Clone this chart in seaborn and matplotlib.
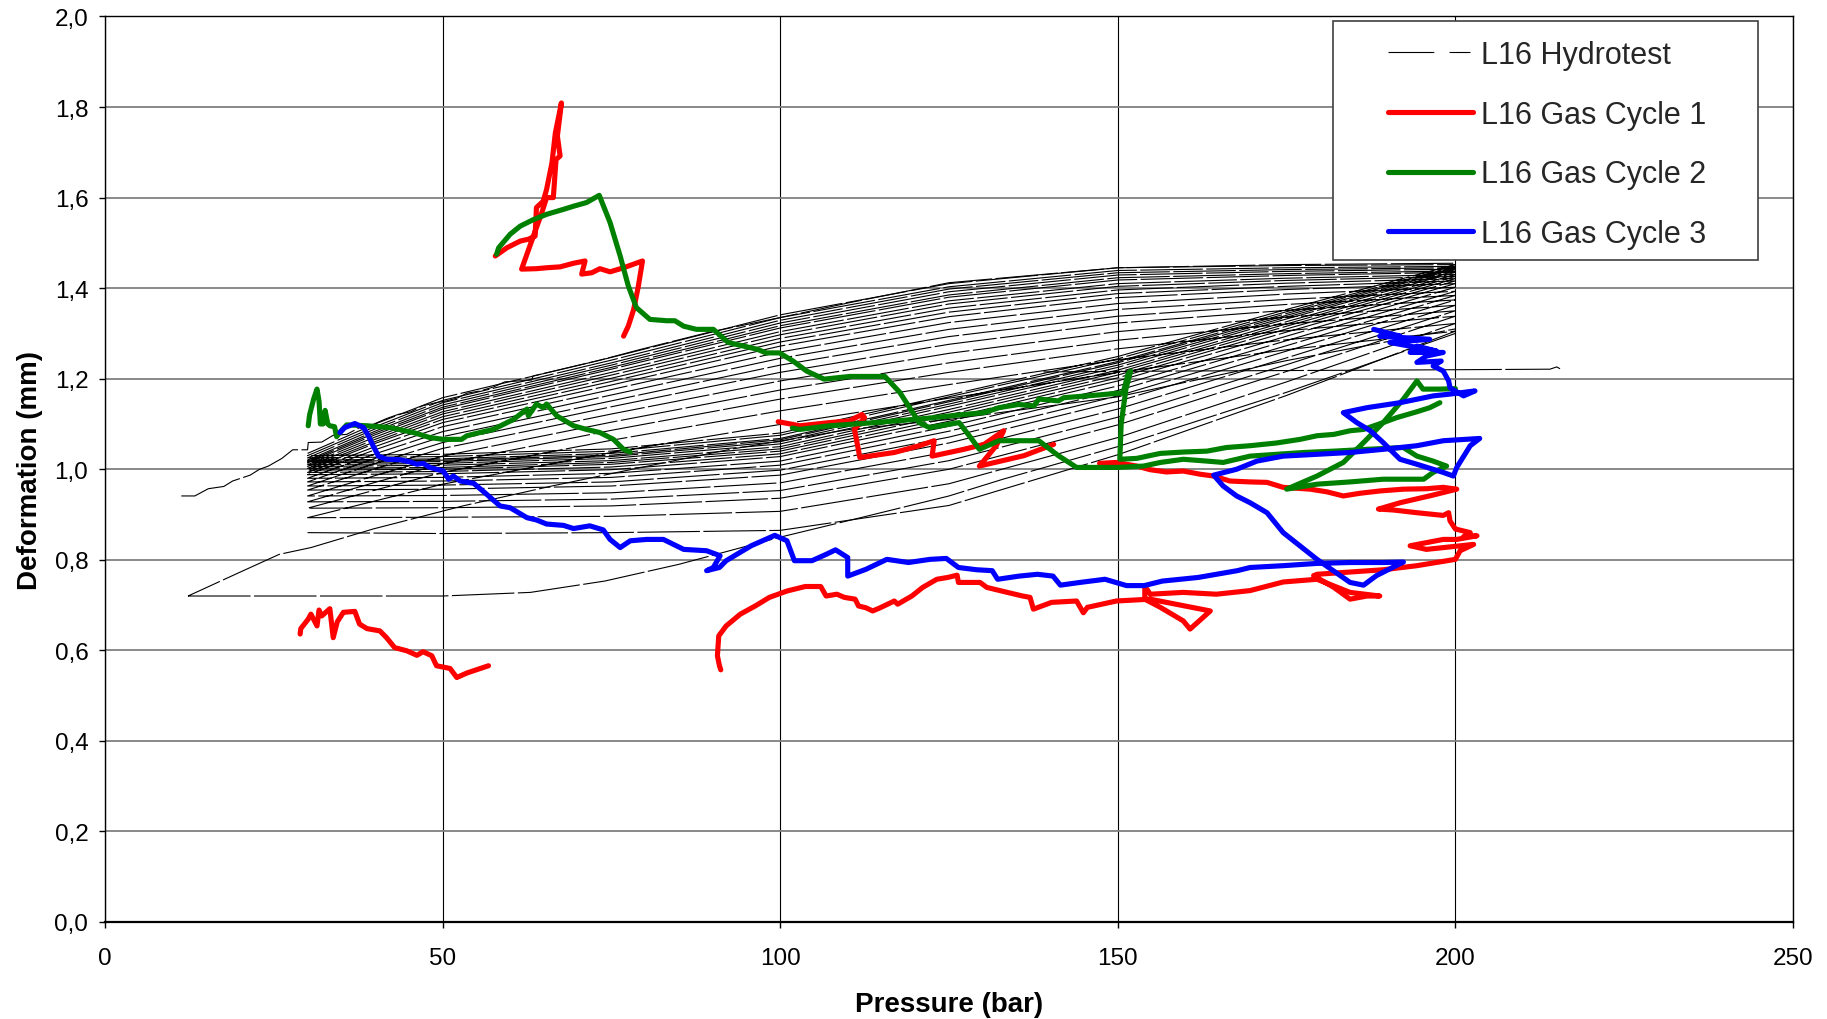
import matplotlib
matplotlib.use("Agg")
import matplotlib.pyplot as plt
import seaborn as sns
import pandas as pd
from matplotlib.lines import Line2D
from matplotlib.patches import Rectangle

# ---------------- axis / legend text ----------------
x_ticks = [0, 50, 100, 150, 200, 250]
y_ticks = [0.0, 0.2, 0.4, 0.6, 0.8, 1.0, 1.2, 1.4, 1.6, 1.8, 2.0]
x_label = "Pressure (bar)"
y_label = "Deformation (mm)"
series_names = ["L16 Hydrotest", "L16 Gas Cycle 1", "L16 Gas Cycle 2", "L16 Gas Cycle 3"]
series_colors = {"L16 Gas Cycle 1": "#FF0000", "L16 Gas Cycle 2": "#008000", "L16 Gas Cycle 3": "#0000FF"}

# ---------------- hydrotest (thin black) ----------------
hydro_stair = [(11.3, 0.941), (13.3, 0.941), (15.3, 0.957), (17.6, 0.962), (18.9, 0.974), (21.5, 0.987),
               (22.9, 1.000), (24.2, 1.007), (26.2, 1.024), (27.8, 1.043), (30.0, 1.043), (30.1, 1.059),
               (32.1, 1.060), (33.8, 1.075), (35.8, 1.077), (37.7, 1.092), (39.7, 1.099), (41.7, 1.112),
               (43.4, 1.121), (45.3, 1.127), (47.0, 1.140), (49.0, 1.147), (50.6, 1.151), (52.3, 1.158),
               (53.6, 1.168), (55.6, 1.173), (57.6, 1.182), (59.2, 1.193), (63.2, 1.197), (63.4, 1.206),
               (72.8, 1.239), (79.4, 1.265), (89.3, 1.302), (100.0, 1.335), (110.3, 1.368), (125.0, 1.412),
               (150.0, 1.445), (175.0, 1.452), (200.0, 1.455)]
hydro_first = [(12.3, 0.720), (30.0, 0.720), (50.0, 0.720), (63.0, 0.728), (74.0, 0.753), (85.0, 0.790),
               (100.0, 0.850), (113.0, 0.897), (125.0, 0.941), (133.0, 0.978), (150.0, 1.050), (175.0, 1.170),
               (200.0, 1.300), (200.0, 1.310), (175.0, 1.240), (150.0, 1.160), (125.0, 1.110), (110.3, 1.088),
               (92.6, 1.044), (79.4, 1.004), (66.2, 0.963), (53.0, 0.919), (39.7, 0.868), (30.5, 0.827),
               (25.8, 0.812), (19.9, 0.772), (12.3, 0.720)]
hydro_hold = [(139.0, 1.215), (160.0, 1.217), (190.0, 1.219), (214.0, 1.221), (215.0, 1.226), (215.5, 1.222)]

hydro_load_p = [30, 50, 75, 100, 125, 150, 175, 200]
hydro_load_d = [
    [1.030, 1.033, 1.045, 1.080, 1.164, 1.249, 1.353, 1.452],
    [1.025, 1.028, 1.040, 1.075, 1.160, 1.244, 1.348, 1.448],
    [1.020, 1.023, 1.035, 1.068, 1.152, 1.238, 1.344, 1.445],
    [1.017, 1.020, 1.031, 1.065, 1.149, 1.235, 1.340, 1.442],
    [1.014, 1.017, 1.028, 1.061, 1.144, 1.230, 1.336, 1.438],
    [1.010, 1.013, 1.024, 1.056, 1.139, 1.225, 1.332, 1.435],
    [1.006, 1.009, 1.019, 1.050, 1.132, 1.219, 1.326, 1.430],
    [1.002, 1.004, 1.015, 1.045, 1.126, 1.214, 1.321, 1.426],
    [0.998, 1.000, 1.011, 1.040, 1.120, 1.208, 1.316, 1.421],
    [0.993, 0.995, 1.005, 1.034, 1.113, 1.202, 1.310, 1.416],
    [0.988, 0.990, 0.999, 1.028, 1.106, 1.195, 1.303, 1.410],
    [0.980, 0.982, 0.991, 1.018, 1.095, 1.184, 1.294, 1.402],
    [0.972, 0.974, 0.982, 1.009, 1.084, 1.174, 1.284, 1.393],
    [0.963, 0.965, 0.972, 0.998, 1.071, 1.162, 1.273, 1.384],
    [0.954, 0.956, 0.963, 0.987, 1.058, 1.150, 1.261, 1.374],
    [0.941, 0.942, 0.948, 0.970, 1.039, 1.133, 1.246, 1.362],
    [0.928, 0.929, 0.934, 0.953, 1.019, 1.115, 1.231, 1.350],
    [0.914, 0.915, 0.919, 0.936, 1.000, 1.098, 1.216, 1.338],
    [0.893, 0.894, 0.896, 0.907, 0.968, 1.070, 1.193, 1.322],
    [0.860, 0.858, 0.860, 0.865, 0.920, 1.032, 1.163, 1.305],
]
hydro_unload_p = [200, 175, 150, 125, 100, 75, 50, 40, 30]
hydro_unload_d = [
    [1.452, 1.450, 1.445, 1.410, 1.341, 1.247, 1.158, 1.100, 1.035],
    [1.448, 1.445, 1.439, 1.403, 1.335, 1.241, 1.152, 1.094, 1.030],
    [1.445, 1.441, 1.434, 1.398, 1.329, 1.235, 1.147, 1.089, 1.025],
    [1.442, 1.437, 1.429, 1.392, 1.323, 1.230, 1.142, 1.084, 1.020],
    [1.438, 1.432, 1.423, 1.385, 1.317, 1.225, 1.137, 1.080, 1.017],
    [1.435, 1.428, 1.418, 1.380, 1.312, 1.221, 1.133, 1.076, 1.014],
    [1.430, 1.422, 1.410, 1.372, 1.304, 1.214, 1.127, 1.071, 1.010],
    [1.426, 1.417, 1.404, 1.365, 1.297, 1.208, 1.122, 1.066, 1.006],
    [1.421, 1.411, 1.396, 1.356, 1.289, 1.201, 1.116, 1.061, 1.002],
    [1.416, 1.404, 1.388, 1.347, 1.281, 1.194, 1.110, 1.057, 0.998],
    [1.410, 1.397, 1.379, 1.337, 1.272, 1.186, 1.103, 1.050, 0.993],
    [1.402, 1.387, 1.366, 1.324, 1.259, 1.176, 1.094, 1.043, 0.988],
    [1.393, 1.375, 1.353, 1.309, 1.245, 1.164, 1.083, 1.034, 0.980],
    [1.384, 1.364, 1.338, 1.293, 1.230, 1.151, 1.072, 1.024, 0.972],
    [1.374, 1.351, 1.323, 1.276, 1.214, 1.138, 1.059, 1.013, 0.963],
    [1.362, 1.336, 1.304, 1.256, 1.195, 1.122, 1.046, 1.001, 0.954],
    [1.350, 1.321, 1.285, 1.235, 1.175, 1.104, 1.029, 0.986, 0.941],
    [1.338, 1.306, 1.266, 1.214, 1.155, 1.086, 1.012, 0.971, 0.928],
    [1.322, 1.286, 1.242, 1.187, 1.129, 1.064, 0.993, 0.954, 0.914],
    [1.305, 1.264, 1.214, 1.157, 1.099, 1.037, 0.967, 0.930, 0.893],
]

# ---------------- Gas cycle 1 (red) ----------------
red_seg1 = [(28.9, 0.636), (29.0, 0.648), (30.1, 0.669), (30.5, 0.680), (31.4, 0.654), (31.7, 0.689),
            (32.1, 0.676), (33.3, 0.692), (33.8, 0.628), (34.4, 0.663), (35.3, 0.684), (37.0, 0.686),
            (37.7, 0.658), (38.8, 0.648), (40.7, 0.643), (41.7, 0.628), (42.9, 0.606), (44.7, 0.599),
            (46.2, 0.589), (47.1, 0.597), (48.4, 0.588), (49.1, 0.566), (51.1, 0.560), (52.1, 0.540),
            (53.6, 0.550), (55.0, 0.557), (56.8, 0.566)]
red_seg2 = [(57.8, 1.471), (59.5, 1.489), (61.5, 1.504), (62.7, 1.508), (63.7, 1.515), (63.9, 1.578),
            (64.9, 1.592), (65.4, 1.618), (66.2, 1.677), (66.7, 1.743), (67.6, 1.809), (67.0, 1.736),
            (67.4, 1.692), (66.8, 1.684), (66.4, 1.600), (65.4, 1.600), (64.7, 1.567), (61.7, 1.442),
            (63.9, 1.443), (65.4, 1.445), (67.4, 1.447), (69.4, 1.455), (71.1, 1.460), (70.6, 1.431),
            (72.1, 1.434), (73.3, 1.443), (74.8, 1.436), (76.8, 1.445), (79.6, 1.460), (79.0, 1.405),
            (78.3, 1.353), (77.5, 1.316), (76.8, 1.294)]
red_seg3 = [(99.7, 1.105), (101.5, 1.100), (102.9, 1.096), (107.3, 1.103), (110.3, 1.107), (112.1, 1.121),
            (112.5, 1.114), (111.0, 1.088), (111.8, 1.026), (116.9, 1.037), (120.6, 1.052), (122.8, 1.063),
            (122.5, 1.029), (127.2, 1.044), (130.2, 1.055), (133.1, 1.085), (132.0, 1.052), (129.5, 1.007),
            (136.1, 1.030), (140.5, 1.055)]
red_seg4 = [(147.3, 1.013), (149.8, 1.015), (152.8, 1.007), (154.8, 0.999), (157.2, 0.994), (159.7, 0.996),
            (162.2, 0.989), (164.2, 0.985), (166.6, 0.974), (169.6, 0.972), (172.1, 0.971), (174.5, 0.960),
            (178.5, 0.956), (181.0, 0.950), (183.4, 0.941), (185.9, 0.947), (188.8, 0.952), (192.3, 0.956),
            (195.7, 0.957), (198.2, 0.960), (200.2, 0.956), (196.7, 0.943), (191.8, 0.926), (188.6, 0.912),
            (190.8, 0.910), (194.3, 0.904), (198.2, 0.898), (199.0, 0.904), (199.2, 0.886), (200.0, 0.868),
            (202.2, 0.860), (201.2, 0.851), (203.2, 0.853), (200.2, 0.845), (198.2, 0.845), (193.3, 0.831),
            (195.7, 0.823), (202.7, 0.834), (200.7, 0.820), (200.0, 0.801), (194.3, 0.787), (189.3, 0.778),
            (184.4, 0.773), (179.5, 0.768), (179.0, 0.765), (182.0, 0.739), (184.4, 0.713), (186.9, 0.720),
            (188.8, 0.720), (184.4, 0.728), (179.5, 0.757), (174.5, 0.751), (169.6, 0.732), (164.6, 0.724),
            (159.7, 0.728), (154.8, 0.724), (154.0, 0.742), (154.0, 0.713), (156.3, 0.695), (159.7, 0.665),
            (160.7, 0.647), (163.7, 0.687), (154.8, 0.713), (149.8, 0.709), (145.5, 0.695), (144.9, 0.683),
            (143.9, 0.709), (140.2, 0.706), (137.5, 0.691), (137.0, 0.717), (135.9, 0.720), (132.8, 0.731),
            (130.6, 0.739), (129.6, 0.750), (126.4, 0.750), (126.2, 0.766), (124.8, 0.761), (123.2, 0.757),
            (121.1, 0.739), (119.5, 0.720), (117.4, 0.702), (116.9, 0.709), (114.8, 0.694), (113.7, 0.687),
            (112.7, 0.694), (111.6, 0.698), (111.1, 0.713), (109.5, 0.717), (108.4, 0.724), (106.8, 0.720),
            (106.0, 0.741), (103.7, 0.741), (101.0, 0.731), (98.4, 0.717), (96.3, 0.698), (94.1, 0.680),
            (92.0, 0.654), (90.9, 0.632), (90.7, 0.588), (91.0, 0.566), (91.2, 0.557)]

# ---------------- Gas cycle 2 (green) ----------------
green_seg1 = [(30.1, 1.096), (30.3, 1.120), (30.9, 1.155), (31.4, 1.177), (31.7, 1.150), (31.9, 1.100),
              (32.3, 1.100), (32.6, 1.130), (33.0, 1.100), (33.3, 1.096), (34.0, 1.094), (34.3, 1.072),
              (34.8, 1.082), (35.8, 1.098), (38.8, 1.096), (42.2, 1.092), (45.7, 1.081), (48.1, 1.070),
              (50.1, 1.066), (52.8, 1.066), (53.6, 1.074), (55.5, 1.081), (57.5, 1.088), (60.5, 1.110),
              (62.5, 1.133), (62.7, 1.118), (63.9, 1.144), (64.9, 1.136), (65.4, 1.144), (66.9, 1.118),
              (69.4, 1.096), (71.3, 1.088), (73.3, 1.081), (75.3, 1.066), (76.8, 1.044), (77.8, 1.038)]
green_seg2 = [(58.0, 1.475), (58.3, 1.489), (60.0, 1.519), (61.5, 1.537), (63.4, 1.551), (65.4, 1.563),
              (67.9, 1.574), (69.4, 1.581), (71.3, 1.589), (73.2, 1.605), (74.8, 1.545), (76.3, 1.471),
              (77.5, 1.405), (78.7, 1.357), (80.7, 1.331), (83.2, 1.328), (84.4, 1.328), (85.7, 1.316),
              (87.6, 1.309), (90.1, 1.309), (92.3, 1.280), (96.6, 1.265), (97.9, 1.257), (99.9, 1.257),
              (101.9, 1.239), (103.9, 1.217), (106.5, 1.199), (110.3, 1.205), (115.5, 1.205), (117.7, 1.170),
              (120.6, 1.103), (122.1, 1.092), (126.5, 1.103), (128.0, 1.074), (129.5, 1.044), (132.4, 1.063),
              (138.3, 1.063), (141.2, 1.030), (143.9, 1.004), (149.8, 1.004), (153.8, 1.007), (156.3, 1.015),
              (159.7, 1.022), (163.2, 1.018), (165.6, 1.015), (167.6, 1.022), (169.6, 1.029), (173.5, 1.033),
              (177.5, 1.037), (182.0, 1.040), (186.9, 1.044), (192.3, 1.048), (194.3, 1.029), (196.7, 1.018),
              (198.7, 1.007), (196.7, 0.993), (195.3, 0.978), (189.3, 0.978), (184.4, 0.972), (179.5, 0.967),
              (175.0, 0.956), (179.5, 0.985), (183.4, 1.015), (186.4, 1.059), (189.3, 1.103), (192.3, 1.155),
              (194.3, 1.195), (195.2, 1.177), (197.7, 1.177), (200.0, 1.178)]
green_seg3 = [(101.8, 1.091), (102.9, 1.088), (107.3, 1.096), (114.0, 1.103), (121.4, 1.112), (127.2, 1.121),
              (130.2, 1.125), (132.4, 1.136), (135.3, 1.143), (137.6, 1.140), (138.3, 1.155), (141.2, 1.151),
              (142.0, 1.158), (147.1, 1.164), (150.8, 1.169), (151.5, 1.210), (151.9, 1.217), (151.2, 1.177),
              (150.5, 1.100), (150.3, 1.022), (152.8, 1.024), (156.3, 1.035), (159.7, 1.038), (163.2, 1.040),
              (166.1, 1.048), (169.6, 1.052), (173.5, 1.058), (177.0, 1.066), (179.5, 1.074), (182.0, 1.077),
              (184.4, 1.085), (186.4, 1.088), (189.3, 1.103), (191.3, 1.114), (194.3, 1.127), (196.2, 1.136),
              (197.7, 1.147)]

# ---------------- Gas cycle 3 (blue) ----------------
blue_seg1 = [(34.8, 1.081), (35.5, 1.092), (37.0, 1.101), (38.3, 1.092), (39.0, 1.074), (39.7, 1.052),
             (40.5, 1.029), (41.7, 1.022), (43.7, 1.021), (45.2, 1.016), (46.2, 1.011), (47.1, 1.013),
             (48.1, 1.004), (50.1, 0.996), (50.9, 0.978), (51.6, 0.985), (52.6, 0.974), (54.6, 0.969),
             (56.5, 0.945), (58.5, 0.919), (60.0, 0.915), (62.5, 0.893), (63.9, 0.888), (65.4, 0.879),
             (67.9, 0.876), (69.4, 0.869), (71.8, 0.875), (73.8, 0.866), (74.8, 0.845), (76.3, 0.827),
             (77.8, 0.842), (80.2, 0.845), (82.7, 0.845), (85.7, 0.823), (89.1, 0.820), (91.1, 0.809),
             (90.1, 0.783), (89.1, 0.776), (91.0, 0.783), (92.0, 0.798), (95.7, 0.831), (99.2, 0.854),
             (101.0, 0.842), (102.1, 0.798), (104.7, 0.798), (106.8, 0.812), (108.2, 0.822), (110.0, 0.805),
             (110.0, 0.764), (112.7, 0.779), (115.8, 0.801), (119.0, 0.794), (122.2, 0.801), (124.6, 0.803),
             (126.4, 0.783), (129.1, 0.778), (131.4, 0.776), (132.2, 0.757), (135.4, 0.764), (138.1, 0.768),
             (140.4, 0.764), (141.5, 0.744), (144.4, 0.750), (148.1, 0.757), (151.3, 0.743), (153.9, 0.743),
             (156.6, 0.753), (161.9, 0.761), (167.7, 0.776), (169.6, 0.783), (174.5, 0.787), (179.5, 0.792),
             (184.4, 0.794), (189.3, 0.794), (192.3, 0.795), (188.3, 0.765), (186.4, 0.744), (184.4, 0.750),
             (179.5, 0.801), (174.5, 0.860), (172.1, 0.904), (169.6, 0.926), (167.6, 0.941), (165.6, 0.963),
             (164.2, 0.987), (167.6, 1.000), (170.6, 1.018), (174.5, 1.029), (179.5, 1.033), (184.4, 1.037),
             (189.3, 1.044), (194.3, 1.052), (198.2, 1.063), (203.6, 1.068), (202.2, 1.052), (200.2, 1.004),
             (199.7, 0.985), (198.2, 0.993), (194.3, 1.011), (191.8, 1.022), (190.3, 1.044), (189.3, 1.059),
             (187.4, 1.085), (185.4, 1.103), (183.4, 1.125), (186.9, 1.136), (191.8, 1.147), (196.7, 1.162),
             (199.2, 1.166), (202.9, 1.173), (201.2, 1.162), (199.2, 1.180), (199.0, 1.195), (198.2, 1.217),
             (196.7, 1.228), (197.9, 1.239), (194.3, 1.236), (195.7, 1.250), (198.2, 1.258), (193.3, 1.258),
             (194.3, 1.272), (197.2, 1.261), (190.3, 1.280), (196.2, 1.287), (188.8, 1.294), (191.8, 1.294),
             (187.9, 1.309)]

# ---------------- build tables ----------------
hydro_rows = []
for unit, path in [("stair", hydro_stair), ("first", hydro_first), ("hold", hydro_hold)]:
    for p, d in path:
        hydro_rows.append((unit, p, d))
for i in range(len(hydro_load_d) - 1, -1, -1):
    for p, d in zip(hydro_load_p, hydro_load_d[i]):
        hydro_rows.append(("cycles", p, d))
    for p, d in zip(hydro_unload_p, hydro_unload_d[i]):
        hydro_rows.append(("cycles", p, d))
hydro_df = pd.DataFrame(hydro_rows, columns=["unit", "p", "d"])

gas_rows = []
for name, segs in [("L16 Gas Cycle 1", [red_seg1, red_seg2, red_seg3, red_seg4]),
                   ("L16 Gas Cycle 2", [green_seg1, green_seg2, green_seg3]),
                   ("L16 Gas Cycle 3", [blue_seg1])]:
    for k, seg in enumerate(segs):
        for p, d in seg:
            gas_rows.append((name, f"{name}-{k}", p, d))
gas_df = pd.DataFrame(gas_rows, columns=["series", "unit", "p", "d"])

# ---------------- plot ----------------
sns.set_style("white")
plt.rcParams["font.family"] = ["Liberation Sans", "DejaVu Sans"]
plt.rcParams["lines.scale_dashes"] = False

fig = plt.figure(figsize=(18.27, 10.20), dpi=100)
ax = fig.add_axes([0.05747, 0.0951, 0.92392, 0.88775])

sns.lineplot(data=hydro_df, x="p", y="d", units="unit", estimator=None, sort=False,
             color="black", linewidth=0.8, legend=False, ax=ax)
for ln in ax.lines:
    ln.set_linestyle((0, (45, 2.5)))
    ln.set_zorder(2)
n_h = len(ax.lines)

for name in ["L16 Gas Cycle 1", "L16 Gas Cycle 2", "L16 Gas Cycle 3"]:
    sub = gas_df[gas_df["series"] == name]
    sns.lineplot(data=sub, x="p", y="d", units="unit", estimator=None, sort=False,
                 color=series_colors[name], linewidth=3.7, legend=False, ax=ax,
                 solid_joinstyle="round", solid_capstyle="round")
for ln in ax.lines[n_h:]:
    ln.set_zorder(3)

ax.set_xlim(0, 250)
ax.set_ylim(0, 2.0)
ax.set_xticks(x_ticks, labels=[str(v) for v in x_ticks])
ax.set_yticks(y_ticks, labels=[f"{v:.1f}".replace(".", ",") for v in y_ticks])
ax.grid(axis="y", color="#808080", linewidth=1.3)
ax.grid(axis="x", color="black", linewidth=0.8)
ax.set_axisbelow(True)
for side in ["left", "right", "top"]:
    ax.spines[side].set_color("black")
    ax.spines[side].set_linewidth(1.0)
ax.spines["bottom"].set_color("black")
ax.spines["bottom"].set_linewidth(1.6)
ax.tick_params(axis="both", direction="out", length=4, width=1, colors="black", labelsize=17.5)
ax.tick_params(axis="x", pad=14, bottom=True)
ax.tick_params(axis="y", pad=8, left=True)

ax.set_xlabel(x_label, fontsize=20, fontweight="bold", color="black")
ax.set_ylabel(y_label, fontsize=20, fontweight="bold", color="black")
ax.xaxis.set_label_coords(0.5, -0.076)
ax.yaxis.set_label_coords(-0.037, 0.5)

# legend box
box = Rectangle((0.7275, 0.7307), 0.2518, 0.2638, transform=ax.transAxes, facecolor="white",
                edgecolor="#404040", linewidth=1.2, zorder=8, clip_on=False)
ax.add_patch(box)
handles = [Line2D([], [], color="black", linewidth=0.8, linestyle=(0, (33, 11, 15, 300))),
           Line2D([], [], color=series_colors["L16 Gas Cycle 1"], linewidth=3.7),
           Line2D([], [], color=series_colors["L16 Gas Cycle 2"], linewidth=3.7),
           Line2D([], [], color=series_colors["L16 Gas Cycle 3"], linewidth=3.7)]
leg = ax.legend(handles, series_names, loc="upper left", bbox_to_anchor=(0.760, 0.974),
                frameon=False, fontsize=22, handlelength=2.8, handletextpad=0.25,
                labelspacing=0.97, borderpad=0, borderaxespad=0)
leg.set_zorder(9)

fig.savefig("out.png", dpi=100, facecolor="white")
